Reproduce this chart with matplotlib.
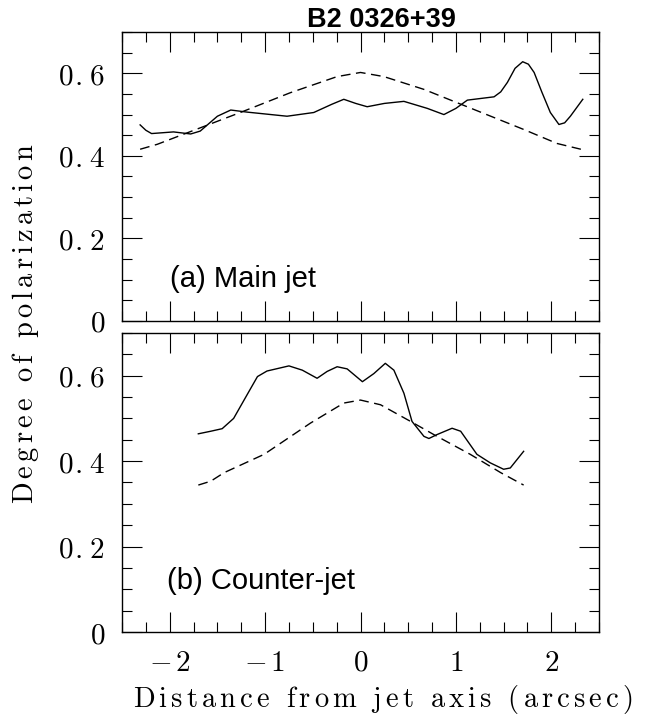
import matplotlib
matplotlib.use('Agg')
import matplotlib.pyplot as plt
from matplotlib.ticker import MultipleLocator

plt.rcParams['mathtext.fontset'] = 'cm'

# (a) main jet
main_x = [-2.31, -2.25, -2.19, -1.96, -1.78, -1.68, -1.60, -1.50, -1.36, -1.19,
          -0.77, -0.49, -0.30, -0.175, -0.05, 0.07, 0.25, 0.455, 0.70, 0.874,
          1.00, 1.12, 1.40, 1.47, 1.54, 1.62, 1.70, 1.76, 1.82, 1.90,
          1.99, 2.08, 2.14, 2.20, 2.33]
main_obs = [0.475, 0.462, 0.454, 0.458, 0.453, 0.460, 0.476, 0.496, 0.511, 0.506,
            0.496, 0.505, 0.525, 0.537, 0.527, 0.519, 0.527, 0.532, 0.515, 0.500,
            0.515, 0.535, 0.543, 0.555, 0.578, 0.612, 0.628, 0.622, 0.602, 0.555,
            0.505, 0.476, 0.480, 0.496, 0.537]
main_mod_x = [-2.31, -2.13, -1.26, -0.735, -0.245, 0.0, 0.245, 0.665, 1.71, 2.06, 2.31]
main_mod = [0.416, 0.428, 0.505, 0.553, 0.592, 0.602, 0.592, 0.561, 0.464, 0.430, 0.416]

# (b) counter-jet
cj_x = [-1.70, -1.57, -1.45, -1.33, -1.19, -1.08, -0.98, -0.75, -0.61, -0.455,
        -0.35, -0.245, -0.14, 0.02, 0.14, 0.26, 0.35, 0.455, 0.54, 0.665,
        0.717, 0.80, 0.96, 1.05, 1.22, 1.36, 1.50, 1.57, 1.71]
cj_obs = [0.464, 0.470, 0.476, 0.500, 0.555, 0.598, 0.611, 0.623, 0.613, 0.594,
          0.610, 0.621, 0.616, 0.586, 0.605, 0.629, 0.613, 0.559, 0.493, 0.458,
          0.453, 0.462, 0.477, 0.470, 0.416, 0.396, 0.381, 0.384, 0.423]
cj_mod_x = [-1.70, -1.57, -1.43, -1.01, -0.525, -0.175, 0.0, 0.21, 0.525, 0.77,
            1.15, 1.47, 1.71]
cj_mod = [0.344, 0.353, 0.373, 0.416, 0.489, 0.536, 0.543, 0.532, 0.493, 0.462,
          0.416, 0.373, 0.344]

xtick_vals = [-2, -1, 0, 1, 2]
xtick_labels = ['-2', '-1', '0', '1', '2']
ytick_vals = [0, 0.2, 0.4, 0.6]
ytick_labels = ['0', '0.2', '0.4', '0.6']


def spaced(s, gap=r'\,'):
    # letter-spaced roman text via mathtext (looks like the old pgplot output)
    parts = [r'\ ' if ch == ' ' else ch for ch in s]
    return '$\\mathrm{' + gap.join(parts) + '}$'


fig = plt.figure(figsize=(6.58, 7.21), dpi=100)
W, H = 658, 721
ax1 = fig.add_axes([122 / W, 1 - 321 / H, 477 / W, 289 / H])
ax2 = fig.add_axes([122 / W, 1 - 632 / H, 477 / W, 299 / H])

for ax in (ax1, ax2):
    ax.set_xlim(-2.5, 2.5)
    ax.set_ylim(0, 0.7)
    ax.xaxis.set_minor_locator(MultipleLocator(0.25))
    ax.yaxis.set_minor_locator(MultipleLocator(0.05))
    ax.set_xticks(xtick_vals, labels=[spaced(t) for t in xtick_labels])
    ax.set_yticks(ytick_vals,
                  labels=[spaced(t, r'\hspace{0.08}') for t in ytick_labels])
    ax.tick_params(which='both', direction='in', top=True, right=True, width=0.8)
    ax.tick_params(which='major', length=14.4, labelsize=21, pad=12)
    ax.tick_params(which='minor', length=7.2)
    for sp in ax.spines.values():
        sp.set_linewidth(1.0)

ax1.tick_params(labelbottom=False)

ax1.plot(main_x, main_obs, color='black', lw=1.0)
ax1.plot(main_mod_x, main_mod, color='black', lw=1.0, ls=(0, (7, 4)))
ax2.plot(cj_x, cj_obs, color='black', lw=1.0)
ax2.plot(cj_mod_x, cj_mod, color='black', lw=1.0, ls=(0, (7, 4)))

ax1.text(-2.0, 0.083, '(a) Main jet', family='Liberation Sans', fontsize=21)
ax2.text(-2.03, 0.10, '(b) Counter-jet', family='Liberation Sans', fontsize=21)

fig.text(381 / W, 1 - 27 / H, 'B2 0326+39', family='Liberation Sans',
         fontweight='bold', fontsize=19.5, ha='center', va='baseline')
fig.text(383 / W, 1 - 707 / H, spaced('Distance from jet axis (arcsec)'),
         fontsize=20.5, ha='center', va='baseline')
fig.text(26 / W, 1 - 323.5 / H, spaced('Degree of polarization'),
         fontsize=20.5, ha='center', va='center', rotation=90)

fig.savefig('out.png', dpi=100)
